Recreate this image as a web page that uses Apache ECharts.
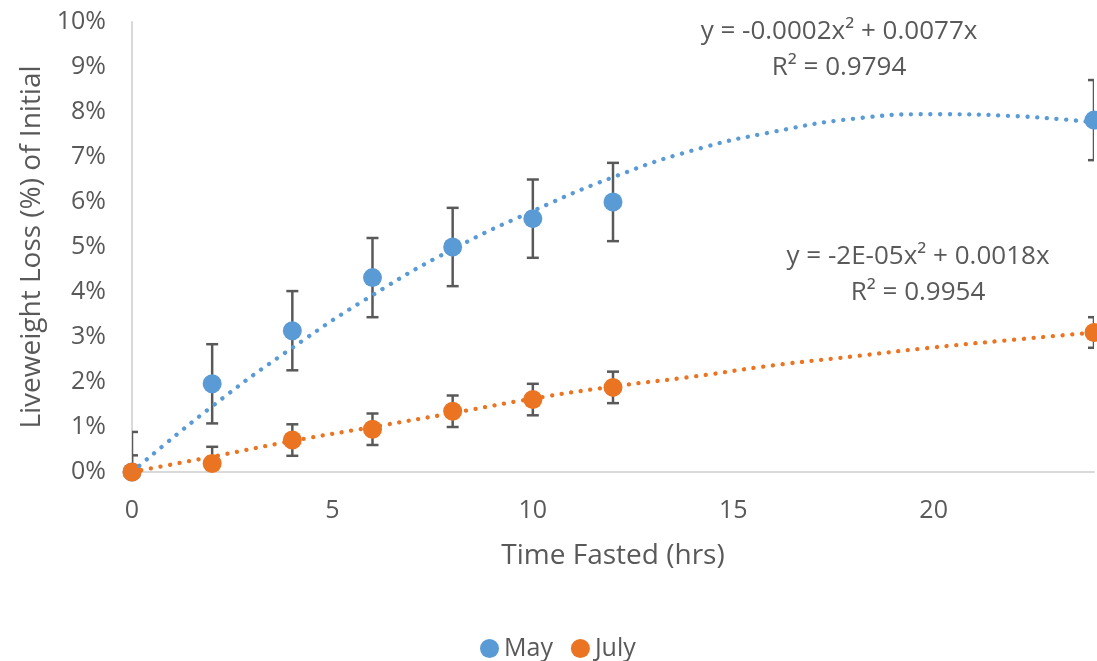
<!DOCTYPE html>
<html>
<head>
<meta charset="utf-8">
<title>Liveweight Loss</title>
<script src="https://cdn.jsdelivr.net/npm/echarts@6/dist/echarts.min.js"></script>
<style>
  html, body { margin: 0; padding: 0; background: #fff; }
  #chart { width: 1097px; height: 661px; }
</style>
</head>
<body>
<div id="chart"></div>
<script>
// 测量点 (hrs)
const xHours = [0, 2, 4, 6, 8, 10, 12, 24];
// 平均失重 (%) 及误差
const mayLoss = [0, 1.96, 3.14, 4.32, 5.0, 5.63, 6.0, 7.82];
const mayErr = [0.89, 0.88, 0.88, 0.88, 0.87, 0.87, 0.87, 0.89];
const julyLoss = [0, 0.19, 0.71, 0.95, 1.35, 1.61, 1.88, 3.1];
const julyErr = [0.37, 0.37, 0.35, 0.35, 0.35, 0.35, 0.35, 0.34];

// 趋势线
const trendHours = [0, 2, 4, 6, 8, 10, 12, 14, 16, 18, 20, 22, 24];
const mayTrend = [0, 1.46, 2.76, 3.93, 4.95, 5.8, 6.55, 7.15, 7.56, 7.85, 7.95, 7.91, 7.77];
const julyTrend = [0, 0.34, 0.69, 1.0, 1.31, 1.63, 1.9, 2.12, 2.37, 2.57, 2.77, 2.94, 3.1];

const mayEqn = ["y = -0.0002x² + 0.0077x", "R² = 0.9794"];
const julyEqn = ["y = -2E-05x² + 0.0018x", "R² = 0.9954"];

const blue = "#5B9BD5";
const orange = "#EA7421";
const textColor = "#595959";
const fontFamily = "'Open Sans', 'Noto Sans', sans-serif";

function zip(xs, ys) {
  return xs.map((x, i) => [x, ys[i]]);
}

function errorData(xs, ys, errs) {
  return xs.map((x, i) => [x, ys[i] - errs[i], ys[i] + errs[i]]);
}

// 误差线
function renderErrorBar(params, api) {
  const x = api.value(0);
  const lo = api.coord([x, api.value(1)]);
  const hi = api.coord([x, api.value(2)]);
  const half = 6;
  const style = { stroke: "#595959", lineWidth: 2.5 };
  return {
    type: "group",
    children: [
      { type: "line", shape: { x1: lo[0], y1: lo[1], x2: hi[0], y2: hi[1] }, style: style },
      { type: "line", shape: { x1: hi[0] - half, y1: hi[1], x2: hi[0] + half, y2: hi[1] }, style: style },
      { type: "line", shape: { x1: lo[0] - half, y1: lo[1], x2: lo[0] + half, y2: lo[1] }, style: style },
    ],
  };
}

function trendSeries(name, data, color) {
  return {
    name: name,
    type: "line",
    data: data,
    showSymbol: false,
    smooth: true,
    z: 4,
    lineStyle: { color: color, width: 4.3, type: [0.1, 9.6], cap: "round" },
    silent: true,
  };
}

function eqnText(lines, cx, cy) {
  return lines.map((t, i) => ({
    type: "text",
    x: cx,
    y: cy + i * 36,
    style: {
      text: t,
      fill: textColor,
      font: "26px " + fontFamily,
      textAlign: "center",
      textVerticalAlign: "middle",
    },
  }));
}

const option = {
  animation: false,
  textStyle: { fontFamily: fontFamily },
  grid: { left: 132, right: 3, top: 22, bottom: 189, containLabel: false },
  legend: {
    data: ["May", "July"],
    top: 631,
    left: 475,
    icon: "circle",
    itemWidth: 19,
    itemHeight: 19,
    itemGap: 18,
    textStyle: { fontSize: 25, color: textColor, fontFamily: fontFamily },
  },
  xAxis: {
    type: "value",
    min: 0,
    max: 24,
    interval: 5,
    name: "Time Fasted (hrs)",
    nameLocation: "middle",
    nameGap: 70,
    nameTextStyle: { fontSize: 28, color: textColor },
    axisLine: { lineStyle: { color: "#D9D9D9", width: 2 } },
    axisTick: { show: false },
    splitLine: { show: false },
    axisLabel: { fontSize: 25, color: textColor, margin: 26, showMaxLabel: false },
  },
  yAxis: {
    type: "value",
    min: 0,
    max: 10,
    interval: 1,
    name: "Liveweight Loss (%) of Initial",
    nameLocation: "middle",
    nameRotate: 90,
    nameGap: 82,
    nameTextStyle: { fontSize: 28, color: textColor },
    axisLine: { show: true, lineStyle: { color: "#D9D9D9", width: 2 } },
    axisTick: { show: false },
    splitLine: { show: false },
    axisLabel: { fontSize: 25, color: textColor, margin: 26, formatter: "{value}%" },
  },
  graphic: eqnText(mayEqn, 839, 32).concat(eqnText(julyEqn, 918, 257)),
  series: [
    {
      name: "May err",
      type: "custom",
      renderItem: renderErrorBar,
      data: errorData(xHours, mayLoss, mayErr),
      clip: true,
      z: 2,
      silent: true,
    },
    {
      name: "July err",
      type: "custom",
      renderItem: renderErrorBar,
      data: errorData(xHours, julyLoss, julyErr),
      clip: true,
      z: 2,
      silent: true,
    },
    {
      name: "May",
      type: "scatter",
      data: zip(xHours, mayLoss),
      symbolSize: 19,
      itemStyle: { color: blue, opacity: 1 },
      clip: true,
      z: 3,
    },
    {
      name: "July",
      type: "scatter",
      data: zip(xHours, julyLoss),
      symbolSize: 19,
      itemStyle: { color: orange, opacity: 1 },
      clip: true,
      z: 3,
    },
    trendSeries("May trend", zip(trendHours, mayTrend), blue),
    trendSeries("July trend", zip(trendHours, julyTrend), orange),
  ],
};

const chart = echarts.init(document.getElementById("chart"));
chart.setOption(option);
</script>
</body>
</html>
